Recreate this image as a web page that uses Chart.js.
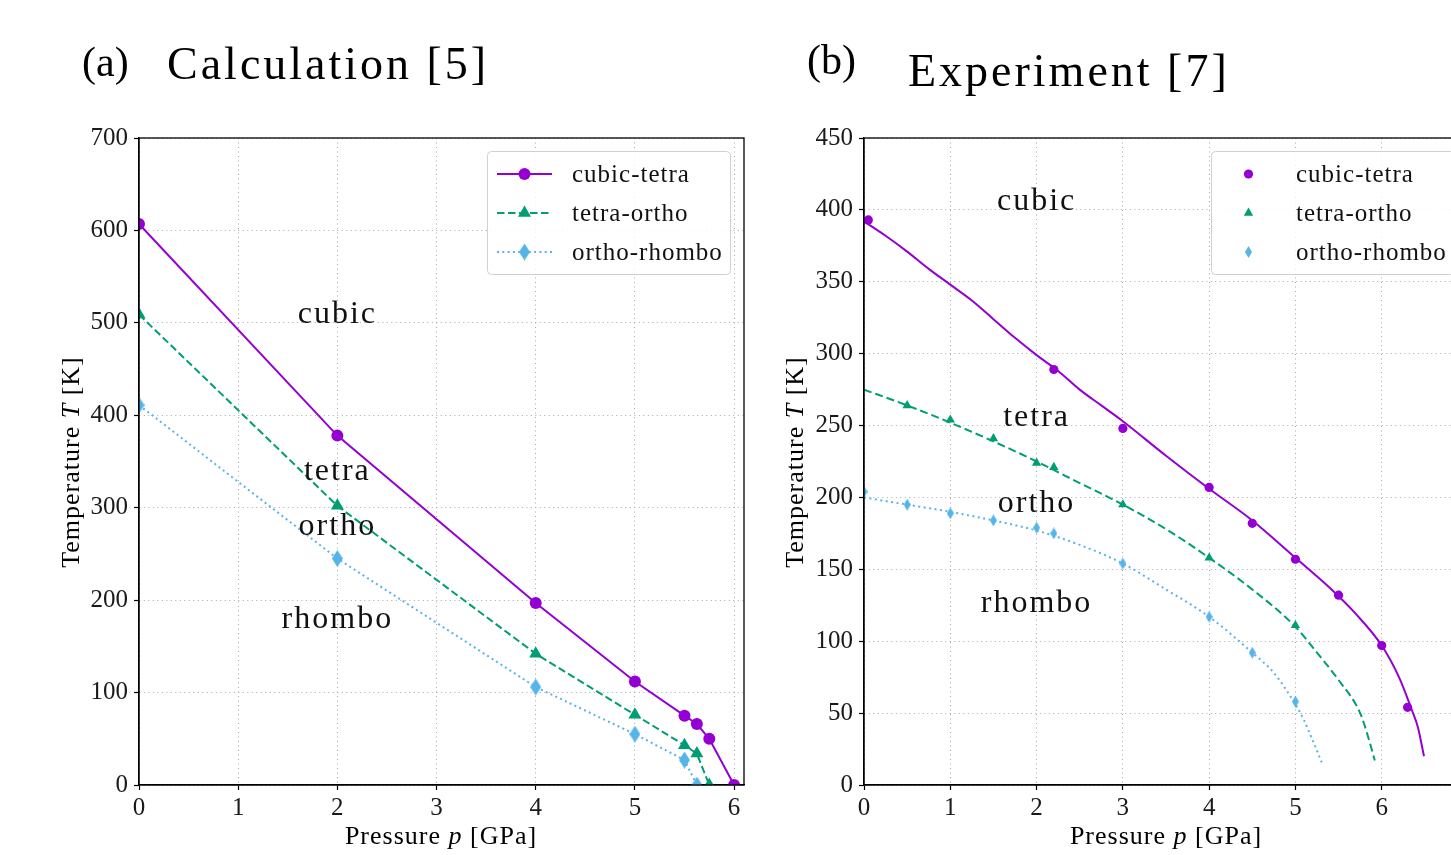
<!DOCTYPE html>
<html><head><meta charset="utf-8">
<script src="https://cdn.jsdelivr.net/npm/chart.js@4/dist/chart.umd.min.js"></script>
<style>
html,body{margin:0;padding:0;background:#fff;overflow:hidden;width:1451px;height:855px;}
#wrap{position:relative;width:1451px;height:855px;overflow:hidden;font-family:"Liberation Serif","DejaVu Serif",serif;color:#000;}
canvas{position:absolute;top:0;}
.t{position:absolute;white-space:nowrap;}
.ttl{font-size:46px;line-height:46px;letter-spacing:3px;}
.pan{font-size:42px;line-height:42px;}
.ax{font-size:26px;line-height:26px;letter-spacing:1px;width:400px;text-align:center;}
.ay{font-size:26px;line-height:26px;letter-spacing:1px;width:400px;text-align:center;transform:rotate(-90deg);transform-origin:50% 50%;}
</style></head><body><div id="wrap">
<canvas id="ca" width="770" height="855" style="left:0;width:770px;height:855px"></canvas>
<canvas id="cb" width="720" height="855" style="left:770px;width:720px;height:855px"></canvas>
<div class="t pan" style="left:82px;top:41px">(a)</div>
<div class="t ttl" style="left:167px;top:41px">Calculation [5]</div>
<div class="t pan" style="left:807px;top:39px">(b)</div>
<div class="t ttl" style="left:908px;top:48px">Experiment [7]</div>
<div class="t ax" style="left:241px;top:823px">Pressure <i>p</i> [GPa]</div>
<div class="t ax" style="left:966px;top:823px">Pressure <i>p</i> [GPa]</div>
<div class="t ay" style="left:-129px;top:449px">Temperature <i>T</i> [K]</div>
<div class="t ay" style="left:595px;top:449px">Temperature <i>T</i> [K]</div>
</div>
<script>
// ---------- DATA ----------
// (a) Calculation [5]
const calcP_cubicTetra  = [0, 2, 4, 5, 5.5, 5.625, 5.75, 6];
const calcT_cubicTetra  = [607, 378, 197, 112, 75, 66, 50, 0];
const calcP_tetraOrtho  = [0, 2, 4, 5, 5.5, 5.625, 5.75];
const calcT_tetraOrtho  = [509, 302, 142, 76, 43, 34, 0];
const calcP_orthoRhombo = [0, 2, 4, 5, 5.5, 5.625];
const calcT_orthoRhombo = [411, 245, 106, 55, 27, 0];

// (b) Experiment [7] – measured points
const expP_cubicTetra  = [0.05, 2.2, 3, 4, 4.5, 5, 5.5, 6, 6.3];
const expT_cubicTetra  = [393, 289, 248, 207, 182, 157, 132, 97, 54];
const expP_tetraOrtho  = [0.5, 1, 1.5, 2, 2.2, 3, 4, 5];
const expT_tetraOrtho  = [264, 254, 241, 224, 221, 195, 158, 111];
const expP_orthoRhombo = [0, 0.5, 1, 1.5, 2, 2.2, 3, 4, 4.5, 5];
const expT_orthoRhombo = [204, 195, 189, 184, 179, 175, 154, 117, 92, 58];

// (b) Experiment [7] – boundary curves
const fitP_cubicTetra  = [0, 0.25, 0.5, 0.75, 1, 1.25, 1.5, 1.75, 2, 2.25, 2.5, 2.75, 3, 3.5, 4, 4.5, 5, 5.4, 5.7, 6, 6.2, 6.35, 6.42, 6.49];
const fitT_cubicTetra  = [392, 382, 371, 359, 348, 337, 324, 311, 299, 288, 275, 264, 253, 229, 206, 184, 158, 137, 119, 97, 75, 52, 40, 20];
const fitP_tetraOrtho  = [0, 0.5, 1, 1.5, 2, 2.5, 3, 3.5, 4, 4.5, 5, 5.25, 5.5, 5.75, 5.85, 5.92];
const fitT_tetraOrtho  = [275, 264, 252, 239, 225, 210, 195, 178, 158, 136, 110, 92, 73, 50, 32, 17];
const fitP_orthoRhombo = [0, 0.5, 1, 1.5, 2, 2.5, 3, 3.5, 4, 4.5, 4.75, 5, 5.1, 5.2, 5.31];
const fitT_orthoRhombo = [200, 195, 190, 184, 177, 167, 154, 136, 117, 92, 78, 56, 45, 31, 15];

// labels
const seriesNames = ['cubic-tetra', 'tetra-ortho', 'ortho-rhombo'];
const phaseNames = ['cubic', 'tetra', 'ortho', 'rhombo'];
const phaseP_a = [2, 2, 2, 2];
const phaseT_a = [500, 330, 270, 170];
const phaseP_b = [2, 2, 2, 2];
const phaseT_b = [400, 250, 190, 120];
const xTicksA = [0, 1, 2, 3, 4, 5, 6];
const yTicksA = [0, 100, 200, 300, 400, 500, 600, 700];
const xTicksB = [0, 1, 2, 3, 4, 5, 6, 7];
const yTicksB = [0, 50, 100, 150, 200, 250, 300, 350, 400, 450];

// ---------- STYLE ----------
const PURPLE = '#9400D3', GREEN = '#009E73', BLUE = '#56B4E9';
const FONT = '"Liberation Serif", "DejaVu Serif", serif';

function thinDiamond(w, h, color) {
  const c = document.createElement('canvas');
  c.width = w; c.height = h;
  const g = c.getContext('2d');
  g.fillStyle = color;
  g.beginPath();
  g.moveTo(w / 2, 0); g.lineTo(w, h / 2); g.lineTo(w / 2, h); g.lineTo(0, h / 2);
  g.closePath(); g.fill();
  return c;
}
const diamondA = thinDiamond(11, 17, BLUE);
const diamondB = thinDiamond(7, 12, BLUE);

function pts(xs, ys) { return xs.map((x, i) => ({x: x, y: ys[i]})); }

function drawMarker(ctx, style, r, color, x, y) {
  ctx.save();
  ctx.fillStyle = color;
  if (typeof style === 'object') {
    ctx.drawImage(style, x - style.width / 2, y - style.height / 2);
  } else if (style === 'circle') {
    ctx.beginPath(); ctx.arc(x, y, r, 0, Math.PI * 2); ctx.fill();
  } else if (style === 'triangle') {
    ctx.beginPath();
    let a = 0;
    ctx.moveTo(x + Math.sin(a) * r, y - Math.cos(a) * r);
    a += 2 * Math.PI / 3; ctx.lineTo(x + Math.sin(a) * r, y - Math.cos(a) * r);
    a += 2 * Math.PI / 3; ctx.lineTo(x + Math.sin(a) * r, y - Math.cos(a) * r);
    ctx.closePath(); ctx.fill();
  }
  ctx.restore();
}

const framePlugin = {
  id: 'frame',
  afterDraw(chart) {
    const {ctx, chartArea: a} = chart;
    ctx.save();
    ctx.strokeStyle = '#000'; ctx.lineWidth = 1.3;
    ctx.strokeRect(a.left, a.top, a.right - a.left, a.bottom - a.top);
    ctx.restore();
  }
};

const phasePlugin = {
  id: 'phaseText',
  afterDatasetsDraw(chart, args, opts) {
    const {ctx, scales: {x, y}} = chart;
    ctx.save();
    ctx.font = '32px ' + FONT;
    ctx.letterSpacing = '2px';
    ctx.fillStyle = '#111';
    ctx.textAlign = 'center';
    ctx.textBaseline = 'alphabetic';
    opts.names.forEach((n, i) => ctx.fillText(n, x.getPixelForValue(opts.px[i]), y.getPixelForValue(opts.py[i])));
    ctx.restore();
  }
};

const legendPlugin = {
  id: 'mplLegend',
  afterDatasetsDraw(chart, args, opts) {
    const {ctx, chartArea: a} = chart;
    const items = chart.data.datasets.filter(d => d.inLegend);
    const w = 243, h = 123;
    const L = a.right - 14 - w, T = a.top + 13;
    ctx.save();
    ctx.beginPath();
    if (ctx.roundRect) ctx.roundRect(L + 0.5, T + 0.5, w, h, 4); else ctx.rect(L + 0.5, T + 0.5, w, h);
    ctx.fillStyle = 'rgba(255,255,255,0.85)'; ctx.fill();
    ctx.strokeStyle = '#d0d0d0'; ctx.lineWidth = 1; ctx.stroke();
    ctx.font = '25px ' + FONT;
    ctx.letterSpacing = '1px';
    ctx.textBaseline = 'middle'; ctx.textAlign = 'left';
    items.forEach((d, i) => {
      const cy = T + 23 + i * 39;
      if (d.showLine) {
        ctx.save();
        ctx.strokeStyle = d.borderColor; ctx.lineWidth = d.borderWidth;
        ctx.setLineDash(d.borderDash || []);
        ctx.beginPath(); ctx.moveTo(L + 10, cy); ctx.lineTo(L + 65, cy); ctx.stroke();
        ctx.restore();
      }
      drawMarker(ctx, d.pointStyle, d.pointRadius, d.pointBackgroundColor, L + 37.5, cy);
      ctx.fillStyle = '#111';
      ctx.fillText(d.label, L + 85, cy + 1);
    });
    ctx.restore();
  }
};

function scaleOpts(min, max, ticksArr, fixed, isX) {
  return {
    type: 'linear', min: min, max: max,
    afterFit: s => { if (isX) s.height = fixed; else s.width = fixed; },
    afterBuildTicks: s => { s.ticks = ticksArr.filter(v => v >= min && v <= max).map(v => ({value: v})); },
    ticks: {
      includeBounds: false, color: '#1a1a1a', padding: isX ? 3 : 6, autoSkip: false, maxRotation: 0,
      font: {family: FONT, size: 25}, callback: v => String(v)
    },
    grid: {color: '#a8a8a8', lineWidth: 1, drawTicks: true, tickLength: 5, tickColor: '#000', tickWidth: 1.2},
    border: {display: true, color: '#000', width: 1.3, dash: [1, 3.5]}
  };
}

function baseOptions(xmin, xmax, ymin, ymax, xt, yt, yAxisW, rightPad, phaseOpts) {
  return {
    responsive: false, animation: false, devicePixelRatio: 1,
    layout: {padding: {top: 138, right: rightPad, bottom: 0, left: 0}},
    plugins: {legend: {display: false}, tooltip: {enabled: false}, phaseText: phaseOpts},
    scales: {
      x: scaleOpts(xmin, xmax, xt, 70, true),
      y: scaleOpts(ymin, ymax, yt, yAxisW, false)
    }
  };
}

// ---------- CHART (a) ----------
new Chart(document.getElementById('ca'), {
  type: 'scatter',
  data: {datasets: [
    {label: seriesNames[0], inLegend: true, data: pts(calcP_cubicTetra, calcT_cubicTetra), showLine: true,
     borderColor: PURPLE, borderWidth: 2, pointStyle: 'circle', pointRadius: 6, pointBackgroundColor: PURPLE, pointBorderWidth: 0},
    {label: seriesNames[1], inLegend: true, data: pts(calcP_tetraOrtho, calcT_tetraOrtho), showLine: true,
     borderColor: GREEN, borderWidth: 2, borderDash: [7.5, 3.5], pointStyle: 'triangle', pointRadius: 7.5, pointBackgroundColor: GREEN, pointBorderWidth: 0},
    {label: seriesNames[2], inLegend: true, data: pts(calcP_orthoRhombo, calcT_orthoRhombo), showLine: true,
     borderColor: BLUE, borderWidth: 2, borderDash: [2, 3.3], pointStyle: diamondA, pointRadius: 6, pointBackgroundColor: BLUE, pointBorderWidth: 0}
  ]},
  options: baseOptions(0, 6.1, 0, 700, xTicksA, yTicksA, 139, 26, {names: phaseNames, px: phaseP_a, py: phaseT_a}),
  plugins: [phasePlugin, legendPlugin, framePlugin]
});

// ---------- CHART (b) ----------
new Chart(document.getElementById('cb'), {
  type: 'scatter',
  data: {datasets: [
    {label: 'fit ' + seriesNames[0], data: pts(fitP_cubicTetra, fitT_cubicTetra), showLine: true,
     borderColor: PURPLE, borderWidth: 2, pointRadius: 0, cubicInterpolationMode: 'monotone'},
    {label: 'fit ' + seriesNames[1], data: pts(fitP_tetraOrtho, fitT_tetraOrtho), showLine: true,
     borderColor: GREEN, borderWidth: 2, borderDash: [8, 4], pointRadius: 0, cubicInterpolationMode: 'monotone'},
    {label: 'fit ' + seriesNames[2], data: pts(fitP_orthoRhombo, fitT_orthoRhombo), showLine: true,
     borderColor: BLUE, borderWidth: 2, borderDash: [2, 3.5], pointRadius: 0, cubicInterpolationMode: 'monotone'},
    {label: seriesNames[0], inLegend: true, data: pts(expP_cubicTetra, expT_cubicTetra), showLine: false,
     pointStyle: 'circle', pointRadius: 4.6, pointBackgroundColor: PURPLE, pointBorderWidth: 0},
    {label: seriesNames[1], inLegend: true, data: pts(expP_tetraOrtho, expT_tetraOrtho), showLine: false,
     pointStyle: 'triangle', pointRadius: 5.4, pointBackgroundColor: GREEN, pointBorderWidth: 0},
    {label: seriesNames[2], inLegend: true, data: pts(expP_orthoRhombo, expT_orthoRhombo), showLine: false,
     pointStyle: diamondB, pointRadius: 4, pointBackgroundColor: BLUE, pointBorderWidth: 0}
  ]},
  options: baseOptions(0, 7, 0, 450, xTicksB, yTicksB, 94, 22, {names: phaseNames, px: phaseP_b, py: phaseT_b}),
  plugins: [phasePlugin, legendPlugin, framePlugin]
});
</script>
</body></html>
